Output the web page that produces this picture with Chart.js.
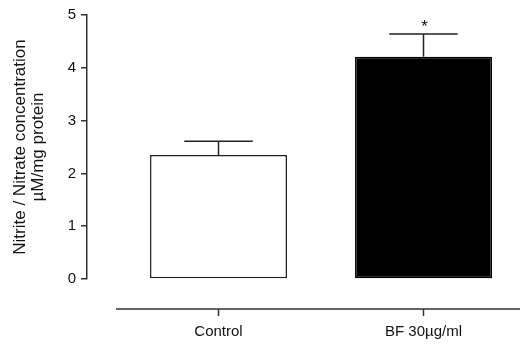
<!DOCTYPE html>
<html>
<head>
<meta charset="utf-8">
<script src="https://cdn.jsdelivr.net/npm/chart.js@4.4.1/dist/chart.umd.min.js"></script>
<style>
  html, body { margin: 0; padding: 0; background: #fff; }
  #wrap { width: 520px; height: 344px; position: relative; }
</style>
</head>
<body>
<div id="wrap"><canvas id="c"></canvas></div>
<script>
const categories = ['Control', 'BF 30\u00b5g/ml'];
const means = [2.35, 4.21];
const sems = [0.26, 0.43];
const significance = ['', '*'];
const yTicks = [0, 1, 2, 3, 4, 5];
const yTitle = ['Nitrite / Nitrate concentration', '\u00b5M/mg protein'];

const FONT = "'Liberation Sans', Arial, sans-serif";
const AXIS = '#333';

const errorBars = {
  id: 'errorBars',
  afterDatasetsDraw(chart) {
    const ctx = chart.ctx;
    const meta = chart.getDatasetMeta(0);
    const ys = chart.scales.y;
    ctx.save();
    ctx.strokeStyle = '#222';
    ctx.lineWidth = 1.5;
    meta.data.forEach((bar, i) => {
      const x = bar.x;
      const top = ys.getPixelForValue(means[i] + sems[i]);
      const base = ys.getPixelForValue(means[i]);
      const half = bar.width * 0.25;
      ctx.beginPath();
      ctx.moveTo(x, base);
      ctx.lineTo(x, top);
      ctx.moveTo(x - half, top);
      ctx.lineTo(x + half, top);
      ctx.stroke();
      if (significance[i]) {
        ctx.fillStyle = '#111';
        ctx.font = '17px ' + FONT;
        ctx.textAlign = 'center';
        ctx.textBaseline = 'middle';
        ctx.fillText(significance[i], x + 1, top - 7);
      }
    });
    ctx.restore();
  }
};

const detachedXAxis = {
  id: 'detachedXAxis',
  afterDraw(chart) {
    const ctx = chart.ctx;
    const xs = chart.scales.x;
    const y = chart.chartArea.bottom + 30;
    ctx.save();
    ctx.strokeStyle = AXIS;
    ctx.lineWidth = 1.5;
    ctx.beginPath();
    ctx.moveTo(xs.getPixelForValue(-0.5), y);
    ctx.lineTo(chart.width, y);
    categories.forEach((_, i) => {
      const px = xs.getPixelForValue(i);
      ctx.moveTo(px, y);
      ctx.lineTo(px, y + 7);
    });
    ctx.stroke();
    ctx.restore();
  }
};

new Chart(document.getElementById('c'), {
  type: 'bar',
  data: {
    datasets: [{
      data: categories.map((c, i) => ({ x: i, y: means[i] })),
      backgroundColor: ['#ffffff', '#000000'],
      borderColor: ['#222222', '#000000'],
      borderWidth: 1.5,
      borderSkipped: false,
      categoryPercentage: 1,
      barPercentage: 0.668
    }]
  },
  options: {
    responsive: true,
    maintainAspectRatio: false,
    animation: false,
    layout: { padding: { top: 15, right: 0, bottom: 0, left: 0 } },
    plugins: { legend: { display: false }, tooltip: { enabled: false } },
    scales: {
      x: {
        type: 'linear',
        offset: false,
        min: -0.6415,
        max: 1.4707,
        afterBuildTicks: (s) => { s.ticks = categories.map((_, i) => ({ value: i })); },
        afterFit: (s) => { s.height = 65; },
        border: { display: false },
        grid: { display: false },
        ticks: {
          padding: 36,
          color: '#111',
          font: { family: FONT, size: 15 },
          callback: (v) => categories[v]
        }
      },
      y: {
        min: 0,
        max: 5,
        afterBuildTicks: (s) => { s.ticks = yTicks.map(v => ({ value: v })); },
        afterFit: (s) => { s.width = 87; },
        border: { display: true, color: AXIS, width: 1.5 },
        grid: { display: true, drawOnChartArea: false, drawTicks: true, tickLength: 6, color: AXIS, lineWidth: 1.5 },
        ticks: {
          padding: 5,
          color: '#111',
          font: { family: FONT, size: 15 }
        },
        title: {
          display: true,
          text: yTitle,
          color: '#111',
          font: { family: FONT, size: 17, lineHeight: 1.08 },
          padding: { top: 11, bottom: 0 }
        }
      }
    }
  },
  plugins: [errorBars, detachedXAxis]
});
</script>
</body>
</html>
